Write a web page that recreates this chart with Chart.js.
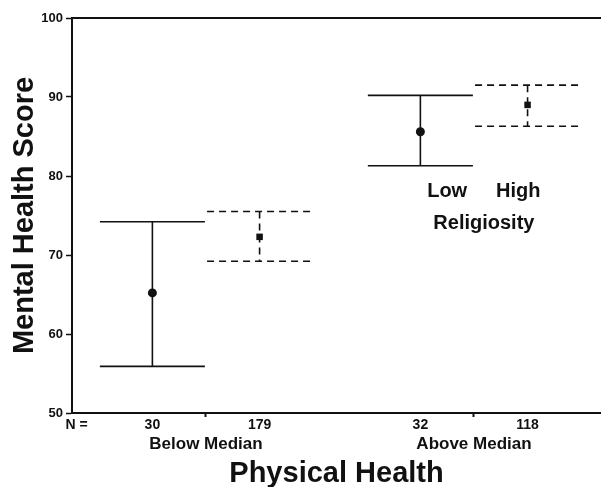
<!DOCTYPE html>
<html>
<head>
<meta charset="utf-8">
<script src="https://cdn.jsdelivr.net/npm/chart.js@4/dist/chart.umd.min.js"></script>
<style>
    html, body { margin: 0; padding: 0; background: #fff; }
</style>
</head>
<body>
<canvas id="chart" width="601" height="487"></canvas>
<script>
const groups = ['Below Median', 'Above Median'];
const nLow = [30, 32];
const nHigh = [179, 118];
const lowMean = [65.2, 85.6];
const lowLower = [55.9, 81.3];
const lowUpper = [74.2, 90.2];
const highMean = [72.3, 89.0];
const highLower = [69.2, 86.3];
const highUpper = [75.5, 91.5];
const yTickValues = [50, 60, 70, 80, 90, 100];

const FONT = "'Liberation Sans', Arial, Helvetica, sans-serif";
const INK = '#111';
const SHIFT = 0.2;   // low/high offset inside a group
const CAP = 0.196;   // half width of the caps

const groupCenter = i => i + 0.5;

function meanPoints(means, side) {
    return means.map((m, i) => ({x: groupCenter(i) + side * SHIFT, y: m}));
}

function whiskerPoints(lower, upper, side) {
    const pts = [];
    lower.forEach((lo, i) => {
        const c = groupCenter(i) + side * SHIFT;
        const hi = upper[i];
        pts.push({x: c - CAP, y: hi}, {x: c + CAP, y: hi}, {x: c, y: null});
        pts.push({x: c, y: hi}, {x: c, y: lo}, {x: c, y: null});
        pts.push({x: c - CAP, y: lo}, {x: c + CAP, y: lo}, {x: c, y: null});
    });
    return pts;
}

// x axis labels: "N =", group sizes and the group names on a second row
const xTicks = [{value: 0.017, label: 'N ='}];
groups.forEach((g, i) => {
    xTicks.push({value: groupCenter(i) - SHIFT, label: String(nLow[i])});
    xTicks.push({value: groupCenter(i), label: ['', g]});
    xTicks.push({value: groupCenter(i) + SHIFT, label: String(nHigh[i])});
});

const notes = [
    {text: 'Low', x: 1.40, y: 78.0},
    {text: 'High', x: 1.665, y: 78.0},
    {text: 'Religiosity', x: 1.537, y: 74.0}
];

const notesPlugin = {
    id: 'notes',
    afterDatasetsDraw(chart) {
        const {ctx, scales: {x, y}} = chart;
        ctx.save();
        ctx.font = `bold 20px ${FONT}`;
        ctx.fillStyle = INK;
        ctx.textAlign = 'center';
        ctx.textBaseline = 'middle';
        notes.forEach(n => ctx.fillText(n.text, x.getPixelForValue(n.x), y.getPixelForValue(n.y)));
        ctx.restore();
    }
};

const isGroupTick = ctx => Array.isArray(xTicks[ctx.index]?.label);

new Chart(document.getElementById('chart').getContext('2d'), {
    type: 'line',
    data: {
        datasets: [
            {
                type: 'scatter',
                label: 'Low mean',
                data: meanPoints(lowMean, -1),
                pointStyle: 'circle',
                pointRadius: 4.5,
                backgroundColor: INK,
                borderWidth: 0
            },
            {
                type: 'scatter',
                label: 'High mean',
                data: meanPoints(highMean, 1),
                pointStyle: 'rect',
                pointRadius: 4.6,
                backgroundColor: INK,
                borderWidth: 0
            },
            {
                label: 'Low CI',
                data: whiskerPoints(lowLower, lowUpper, -1),
                borderColor: INK,
                borderWidth: 1.6,
                pointRadius: 0,
                tension: 0,
                spanGaps: false
            },
            {
                label: 'High CI',
                data: whiskerPoints(highLower, highUpper, 1),
                borderColor: INK,
                borderWidth: 1.6,
                borderDash: [7, 5],
                pointRadius: 0,
                tension: 0,
                spanGaps: false
            }
        ]
    },
    options: {
        responsive: false,
        animation: false,
        devicePixelRatio: 1,
        layout: {autoPadding: false, padding: {top: 18, right: 0, bottom: 0, left: 0}},
        plugins: {legend: {display: false}, tooltip: {enabled: false}},
        scales: {
            x: {
                type: 'linear',
                min: 0,
                max: 1.974,
                bounds: 'data',
                afterBuildTicks: scale => { scale.ticks = xTicks.map(t => ({value: t.value})); },
                afterFit: scale => { scale.height = 74; },
                grid: {
                    drawOnChartArea: false,
                    drawTicks: true,
                    tickLength: 4,
                    tickWidth: 2,
                    tickColor: ctx => isGroupTick(ctx) ? INK : 'rgba(0,0,0,0)'
                },
                border: {display: true, color: INK, width: 2},
                ticks: {
                    autoSkip: false,
                    maxRotation: 0,
                    minRotation: 0,
                    padding: 0,
                    color: INK,
                    callback: (value, index) => xTicks[index].label,
                    font: ctx => isGroupTick(ctx)
                        ? {family: FONT, size: 17, weight: 'bold', lineHeight: 1.06}
                        : {family: FONT, size: 14, weight: 'bold', lineHeight: 1.2}
                },
                title: {
                    display: true,
                    text: 'Physical Health',
                    color: INK,
                    font: {family: FONT, size: 29, weight: 'bold', lineHeight: 0.9},
                    padding: {top: 0, bottom: 0}
                }
            },
            x2: {
                type: 'linear',
                position: 'top',
                display: true,
                min: 0,
                max: 1,
                grid: {display: false},
                ticks: {display: false},
                border: {display: true, color: INK, width: 2},
                afterFit: scale => { scale.height = 0; }
            },
            y: {
                min: 50,
                max: 100,
                afterBuildTicks: scale => { scale.ticks = yTickValues.map(v => ({value: v})); },
                afterFit: scale => { scale.width = 72; },
                grid: {drawOnChartArea: false, tickLength: 6, tickWidth: 1.5, tickColor: INK},
                border: {display: true, color: INK, width: 2},
                ticks: {
                    padding: 3,
                    color: INK,
                    font: {family: FONT, size: 13, weight: 'bold'},
                    callback: v => String(v)
                },
                title: {
                    display: true,
                    text: 'Mental Health Score',
                    color: INK,
                    font: {family: FONT, size: 29, weight: 'bold', lineHeight: 1},
                    padding: {top: 10, bottom: 0}
                }
            }
        }
    },
    plugins: [notesPlugin]
});
</script>
</body>
</html>
